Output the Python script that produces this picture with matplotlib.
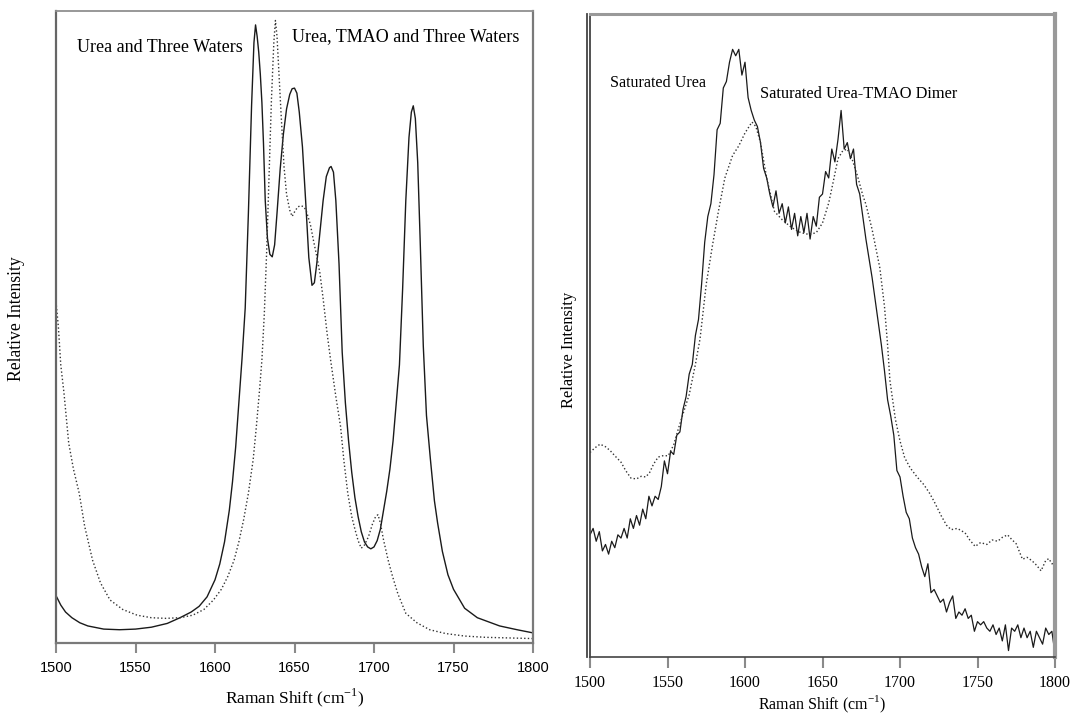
import matplotlib
matplotlib.use("Agg")
import matplotlib.pyplot as plt
from matplotlib.transforms import offset_copy

plt.rcParams['font.family'] = ['Liberation Serif', 'DejaVu Serif']
plt.rcParams['mathtext.fontset'] = 'custom'
plt.rcParams['mathtext.rm'] = 'Liberation Serif'

# ---------------- data: left panel ----------------
left_solid_x = [1500, 1503, 1506, 1510, 1515, 1520, 1530, 1540, 1550, 1560, 1570, 1578, 1585, 1590, 1595,
                1600, 1603, 1606, 1609, 1611, 1613, 1615, 1617, 1619, 1621, 1623, 1624.5, 1625.5, 1626.5,
                1627.5, 1628.5, 1629.5, 1630.5, 1631.6, 1633, 1634.5, 1636, 1637.5, 1639, 1641, 1643, 1645,
                1647, 1648.5, 1650, 1651.5, 1653, 1655, 1657, 1659, 1661, 1662.5, 1664, 1666, 1668, 1670,
                1672, 1673, 1674.5, 1676, 1678, 1680, 1682, 1684, 1686, 1688, 1690, 1692, 1694, 1696, 1698,
                1700, 1702, 1704, 1706, 1708, 1710, 1712, 1714, 1716, 1718, 1720, 1722, 1723.5, 1724.7, 1726,
                1727.5, 1729, 1731, 1733, 1735.5, 1738, 1740, 1743, 1746.5, 1750, 1757, 1765, 1779, 1790, 1800]
left_solid_y = [0.075, 0.060, 0.049, 0.040, 0.032, 0.027, 0.022, 0.021, 0.022, 0.025, 0.031, 0.040, 0.049, 0.058, 0.073,
                0.100, 0.125, 0.160, 0.210, 0.255, 0.310, 0.380, 0.450, 0.530, 0.680, 0.850, 0.950, 0.978, 0.960,
                0.935, 0.900, 0.855, 0.790, 0.700, 0.640, 0.615, 0.611, 0.630, 0.680, 0.750, 0.805, 0.845,
                0.868, 0.877, 0.878, 0.870, 0.840, 0.785, 0.700, 0.610, 0.566, 0.570, 0.600, 0.650, 0.700, 0.738,
                0.752, 0.754, 0.745, 0.700, 0.600, 0.460, 0.380, 0.320, 0.270, 0.230, 0.200, 0.176, 0.160, 0.152, 0.149,
                0.152, 0.162, 0.180, 0.210, 0.240, 0.275, 0.320, 0.380, 0.440, 0.560, 0.700, 0.800, 0.840, 0.850, 0.830,
                0.760, 0.640, 0.470, 0.360, 0.290, 0.225, 0.190, 0.145, 0.108, 0.085, 0.055, 0.040, 0.027, 0.021, 0.016]

left_dot_x = [1500, 1501.5, 1503, 1505, 1508, 1511, 1514.6, 1518, 1523, 1528, 1534, 1542, 1551, 1560, 1569, 1578,
              1586, 1593, 1599, 1604, 1608, 1612, 1615, 1618, 1621, 1624, 1626, 1628, 1629.5, 1631, 1632.5, 1634,
              1635.5, 1637, 1638, 1639, 1640, 1641.5, 1643.4, 1645, 1647, 1648.5, 1650, 1652, 1654, 1656, 1657.5,
              1660, 1662, 1664, 1666, 1668, 1670.5, 1672.7, 1676, 1679, 1681, 1683.5, 1686, 1688, 1690, 1692, 1694,
              1696.5, 1699, 1701, 1702.5, 1704, 1706, 1709, 1711.7, 1715, 1720, 1727, 1735, 1745, 1757, 1770, 1785, 1800]
left_dot_y = [0.540, 0.500, 0.440, 0.396, 0.316, 0.275, 0.237, 0.185, 0.131, 0.095, 0.068, 0.053, 0.044, 0.040, 0.039, 0.040,
              0.044, 0.053, 0.068, 0.085, 0.105, 0.131, 0.160, 0.195, 0.237, 0.290, 0.342, 0.400, 0.448, 0.520, 0.620, 0.740,
              0.860, 0.950, 0.985, 0.960, 0.912, 0.840, 0.754, 0.710, 0.685, 0.675, 0.682, 0.690, 0.692, 0.690, 0.683,
              0.662, 0.636, 0.612, 0.585, 0.545, 0.490, 0.448, 0.390, 0.342, 0.290, 0.237, 0.200, 0.180, 0.162, 0.150, 0.155,
              0.168, 0.188, 0.200, 0.203, 0.190, 0.163, 0.130, 0.105, 0.078, 0.047, 0.032, 0.021, 0.015, 0.011, 0.009, 0.008, 0.007]

# ---------------- data: right panel ----------------
right_solid_x = list(range(1500, 1801, 2))
right_solid_y = [0.190, 0.200, 0.180, 0.195, 0.165, 0.175, 0.160, 0.180, 0.170, 0.190,
                 0.185, 0.200, 0.185, 0.215, 0.200, 0.220, 0.205, 0.230, 0.215, 0.250,
                 0.235, 0.250, 0.245, 0.265, 0.305, 0.285, 0.320, 0.315, 0.345, 0.350,
                 0.385, 0.405, 0.440, 0.455, 0.500, 0.525, 0.580, 0.645, 0.685, 0.705,
                 0.750, 0.820, 0.830, 0.885, 0.895, 0.925, 0.945, 0.935, 0.945, 0.905,
                 0.925, 0.870, 0.850, 0.835, 0.825, 0.800, 0.760, 0.745, 0.720, 0.700,
                 0.725, 0.690, 0.705, 0.675, 0.700, 0.665, 0.690, 0.655, 0.685, 0.660,
                 0.690, 0.650, 0.685, 0.670, 0.715, 0.720, 0.755, 0.745, 0.790, 0.770,
                 0.805, 0.850, 0.790, 0.800, 0.775, 0.790, 0.735, 0.720, 0.685, 0.650,
                 0.620, 0.590, 0.555, 0.520, 0.485, 0.445, 0.400, 0.375, 0.345, 0.290,
                 0.280, 0.250, 0.225, 0.215, 0.185, 0.170, 0.160, 0.140, 0.125, 0.145,
                 0.100, 0.105, 0.095, 0.085, 0.090, 0.070, 0.085, 0.095, 0.060, 0.070,
                 0.065, 0.075, 0.060, 0.065, 0.040, 0.055, 0.050, 0.055, 0.045, 0.040,
                 0.050, 0.035, 0.045, 0.025, 0.050, 0.010, 0.045, 0.040, 0.050, 0.030,
                 0.045, 0.030, 0.040, 0.015, 0.040, 0.030, 0.020, 0.045, 0.035, 0.040,
                 0.005]

right_dot_x = [1500, 1503, 1506.5, 1510, 1513, 1516, 1520, 1523, 1526.5, 1530, 1533, 1536, 1538.5, 1541, 1544,
               1547, 1550.5, 1554, 1557, 1560, 1564, 1568, 1571, 1575, 1579, 1583, 1587, 1592, 1596, 1600, 1604.5,
               1607, 1610, 1614, 1619, 1624, 1630, 1636, 1641.5, 1646, 1650, 1654, 1657, 1660, 1663, 1666, 1669,
               1672.6, 1676, 1678, 1682, 1687, 1690, 1692, 1693.5, 1697, 1700, 1703, 1706.6, 1711, 1715.4, 1719,
               1722, 1726.5, 1730, 1733, 1737, 1742, 1745, 1748.5, 1752, 1756, 1759.5, 1763, 1766, 1769.4, 1772,
               1775, 1779, 1782, 1785, 1788, 1791, 1794, 1796, 1798, 1800]
right_dot_y = [0.318, 0.325, 0.331, 0.327, 0.321, 0.313, 0.303, 0.290, 0.278, 0.277, 0.281, 0.280, 0.287, 0.300, 0.311,
               0.313, 0.313, 0.330, 0.355, 0.378, 0.408, 0.455, 0.495, 0.580, 0.640, 0.695, 0.745, 0.780, 0.795, 0.815, 0.832,
               0.825, 0.800, 0.745, 0.693, 0.680, 0.668, 0.660, 0.657, 0.660, 0.675, 0.706, 0.740, 0.775, 0.787, 0.790, 0.775,
               0.748, 0.718, 0.704, 0.665, 0.605, 0.545, 0.485, 0.430, 0.370, 0.336, 0.310, 0.294, 0.280, 0.268, 0.255,
               0.242, 0.220, 0.205, 0.198, 0.200, 0.193, 0.182, 0.172, 0.178, 0.175, 0.182, 0.180, 0.186, 0.190, 0.183,
               0.176, 0.152, 0.155, 0.150, 0.143, 0.134, 0.150, 0.153, 0.145, 0.146]

xticks = [1500, 1550, 1600, 1650, 1700, 1750, 1800]
left_labels = ["Urea and Three Waters", "Urea, TMAO and Three Waters"]
right_labels = ["Saturated Urea", "Saturated Urea-TMAO Dimer"]
xlabel = "Raman Shift (cm$^{\\mathregular{-1}}$)"
ylabel = "Relative Intensity"

W, H = 1072, 713
fig = plt.figure(figsize=(W / 100, H / 100), dpi=100)

def frac(l, t, r, b):
    return [l / W, 1 - b / H, (r - l) / W, (b - t) / H]

# ---------------- left panel ----------------
ax1 = fig.add_axes(frac(56, 11, 533, 643))
ax1.plot(left_solid_x, left_solid_y, color='#1a1a1a', lw=1.0)
ax1.plot(left_dot_x, left_dot_y, color='#333333', lw=1.0, ls=':')
ax1.set_xlim(1500, 1800)
ax1.set_ylim(0, 1)
ax1.set_yticks([])
ax1.set_xticks(xticks)
ax1.set_xticklabels([str(t) for t in xticks], family='Liberation Sans', fontsize=10.5)
ax1.tick_params(axis='x', direction='out', length=7, width=1.5, color='#8a8a8a', pad=6)
for s, c, w in [('left', '#666666', 1.6), ('bottom', '#7a7a7a', 1.6), ('top', '#909090', 1.3), ('right', '#7a7a7a', 1.6)]:
    ax1.spines[s].set_color(c)
    ax1.spines[s].set_linewidth(w)
ax1.set_xlabel(xlabel, fontsize=12.5, labelpad=8)
ax1.set_ylabel(ylabel, fontsize=12.7)
ax1.yaxis.set_label_coords(-0.066, 0.513)
ax1.text(0.043, 0.943, left_labels[0], transform=ax1.transAxes, fontsize=13, va='center', ha='left')
ax1.text(0.495, 0.959, left_labels[1], transform=ax1.transAxes, fontsize=13, va='center', ha='left')

# ---------------- right panel ----------------
ax2 = fig.add_axes(frac(590, 14, 1055, 657))
ax2.plot(right_solid_x, right_solid_y, color='#1a1a1a', lw=0.9)
ax2.plot(right_dot_x, right_dot_y, color='#333333', lw=1.0, ls=':')
ax2.set_xlim(1500, 1800)
ax2.set_ylim(0, 1)
ax2.set_yticks([])
ax2.set_xticks(xticks)
ax2.set_xticklabels([str(t) for t in xticks], fontsize=11.5)
ax2.tick_params(axis='x', direction='out', length=8, width=1.5, color='#8a8a8a', pad=5)
for s, c, w in [('left', '#444444', 1.3), ('bottom', '#444444', 1.2), ('top', '#999999', 2.2), ('right', '#999999', 3.0)]:
    ax2.spines[s].set_color(c)
    ax2.spines[s].set_linewidth(w)
ax2.plot([0, 0], [0, 1], transform=offset_copy(ax2.transAxes, fig=fig, x=-2.6, y=0, units='dots'),
         color='#444444', lw=1.3, clip_on=False)
ax2.set_xlabel(xlabel, fontsize=11.5, labelpad=2)
ax2.set_ylabel(ylabel, fontsize=11.8)
ax2.yaxis.set_label_coords(-0.029, 0.477)
ax2.text(0.042, 0.893, right_labels[0], transform=ax2.transAxes, fontsize=11.6, va='center', ha='left')
ax2.text(0.366, 0.876, right_labels[1], transform=ax2.transAxes, fontsize=11.8, va='center', ha='left')

fig.savefig("out.png", dpi=100)
